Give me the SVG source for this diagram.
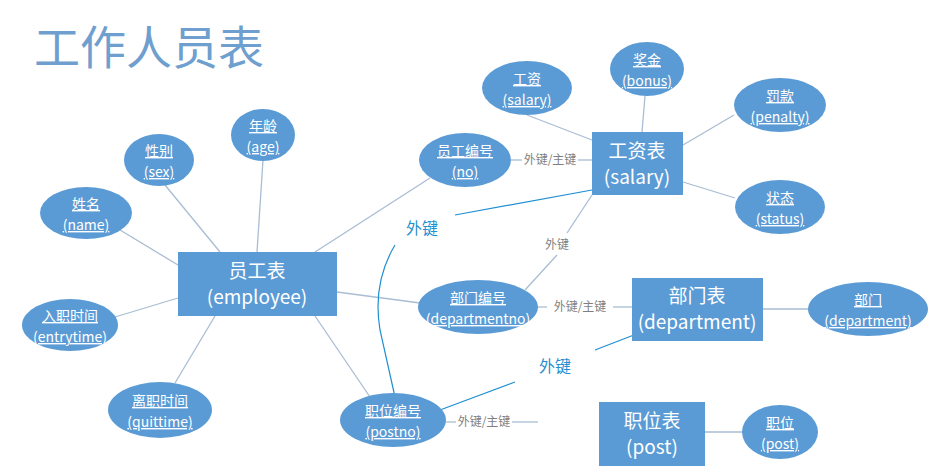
<svg xmlns="http://www.w3.org/2000/svg" width="932" height="472" viewBox="0 0 932 472">
<style>
.n{fill:#5b9bd5}
.t{font-family:"Noto Sans CJK SC","Liberation Sans",sans-serif;fill:#fff;text-anchor:middle}
.s{font-size:14px;text-decoration:underline}
.b{font-size:19px}
.l{stroke:#a9bdd3;stroke-width:1.3;fill:none}
.k{stroke:#1f8fd0;stroke-width:1.2;fill:none}
.g{font-family:"Noto Sans CJK SC",sans-serif;font-size:12px;fill:#7f7f7f;text-anchor:middle}
.c{font-family:"Noto Sans CJK SC",sans-serif;font-size:16px;fill:#1f8fd0;text-anchor:middle}
</style>
<rect width="932" height="472" fill="#fff"/>
<text x="34" y="64" font-family="Noto Sans CJK SC,sans-serif" font-size="46" fill="#6f9fcf">工作人员表</text>
<g id="connectors">
<line class="l" x1="257" y1="252" x2="263" y2="160"/>
<line class="l" x1="220" y1="252" x2="165" y2="185"/>
<line class="l" x1="178" y1="265" x2="120" y2="230"/>
<line class="l" x1="178" y1="298" x2="115" y2="317"/>
<line class="l" x1="215" y1="316" x2="175" y2="383"/>
<line class="l" x1="315" y1="252" x2="430" y2="178"/>
<line class="l" x1="337" y1="292" x2="420" y2="303"/>
<line class="l" x1="315" y1="316" x2="370" y2="397"/>
<line class="l" x1="511" y1="160" x2="522" y2="160"/>
<line class="l" x1="578" y1="160" x2="592" y2="160"/>
<text class="g" x="550" y="164">外键/主键</text>
<line class="l" x1="527" y1="115" x2="592" y2="140"/>
<line class="l" x1="645" y1="96" x2="642" y2="132"/>
<line class="l" x1="734" y1="115" x2="683" y2="145"/>
<line class="l" x1="735" y1="198" x2="683" y2="182"/>
<line class="l" x1="592" y1="195" x2="567" y2="233"/>
<line class="l" x1="557" y1="255" x2="525" y2="290"/>
<text class="g" x="557" y="249">外键</text>
<line class="l" x1="538" y1="307" x2="547" y2="307"/>
<line class="l" x1="613" y1="307" x2="632" y2="307"/>
<text class="g" x="580" y="311">外键/主键</text>
<line class="l" x1="763" y1="309" x2="808" y2="309"/>
<line class="l" x1="446" y1="422" x2="456" y2="422"/>
<text class="g" x="484" y="426">外键/主键</text>
<line class="l" x1="512" y1="422" x2="538" y2="422"/>
<line class="l" x1="705" y1="432" x2="742" y2="432"/>
<path class="k" d="M592 190 L455 215"/>
<path class="k" d="M395 245 C380 270 375 300 380 330 L395 397"/>
<path class="k" d="M440 410 L515 382"/>
<path class="k" d="M595 350 L652 328"/>
<text class="c" x="422" y="234">外键</text>
<text class="c" x="555" y="372">外键</text>
</g>
<g id="employee"><rect class="n" x="178" y="252" width="159" height="64"/><text class="t b" x="257" y="278">员工表</text><text class="t b" x="257" y="304">(employee)</text></g>
<g id="salary"><rect class="n" x="592" y="132" width="91" height="63"/><text class="t b" x="637" y="158">工资表</text><text class="t b" x="637" y="184">(salary)</text></g>
<g id="department"><rect class="n" x="632" y="278" width="131" height="63"/><text class="t b" x="697" y="303">部门表</text><text class="t b" x="697" y="329">(department)</text></g>
<g id="post"><rect class="n" x="599" y="402" width="106" height="64"/><text class="t b" x="652" y="428">职位表</text><text class="t b" x="652" y="454">(post)</text></g>
<g id="age"><ellipse class="n" cx="263" cy="135" rx="32" ry="26"/><text class="t s" x="263" y="131">年龄</text><text class="t s" x="263" y="152">(age)</text></g>
<g id="sex"><ellipse class="n" cx="159" cy="160" rx="35" ry="26"/><text class="t s" x="159" y="156">性别</text><text class="t s" x="159" y="177">(sex)</text></g>
<g id="name"><ellipse class="n" cx="86" cy="213" rx="46" ry="26"/><text class="t s" x="86" y="209">姓名</text><text class="t s" x="86" y="230">(name)</text></g>
<g id="entrytime"><ellipse class="n" cx="70" cy="325" rx="48" ry="26"/><text class="t s" x="70" y="321">入职时间</text><text class="t s" x="70" y="342">(entrytime)</text></g>
<g id="quittime"><ellipse class="n" cx="160" cy="410" rx="52" ry="28"/><text class="t s" x="160" y="406">离职时间</text><text class="t s" x="160" y="427">(quittime)</text></g>
<g id="no"><ellipse class="n" cx="465" cy="160" rx="46" ry="27"/><text class="t s" x="465" y="156">员工编号</text><text class="t s" x="465" y="177">(no)</text></g>
<g id="departmentno"><ellipse class="n" cx="478" cy="307" rx="60" ry="27"/><text class="t s" x="478" y="303">部门编号</text><text class="t s" x="478" y="324">(departmentno)</text></g>
<g id="postno"><ellipse class="n" cx="393" cy="420" rx="53" ry="27"/><text class="t s" x="393" y="416">职位编号</text><text class="t s" x="393" y="437">(postno)</text></g>
<g id="sal"><ellipse class="n" cx="527" cy="88" rx="45" ry="27"/><text class="t s" x="527" y="84">工资</text><text class="t s" x="527" y="105">(salary)</text></g>
<g id="bonus"><ellipse class="n" cx="647" cy="69" rx="37" ry="27"/><text class="t s" x="647" y="65">奖金</text><text class="t s" x="647" y="86">(bonus)</text></g>
<g id="penalty"><ellipse class="n" cx="780" cy="105" rx="46" ry="27"/><text class="t s" x="780" y="101">罚款</text><text class="t s" x="780" y="122">(penalty)</text></g>
<g id="status"><ellipse class="n" cx="780" cy="207" rx="45" ry="27"/><text class="t s" x="780" y="203">状态</text><text class="t s" x="780" y="224">(status)</text></g>
<g id="dept"><ellipse class="n" cx="868" cy="309" rx="60" ry="27"/><text class="t s" x="868" y="305">部门</text><text class="t s" x="868" y="326">(department)</text></g>
<g id="pos"><ellipse class="n" cx="780" cy="432" rx="38" ry="27"/><text class="t s" x="780" y="428">职位</text><text class="t s" x="780" y="449">(post)</text></g>
</svg>
